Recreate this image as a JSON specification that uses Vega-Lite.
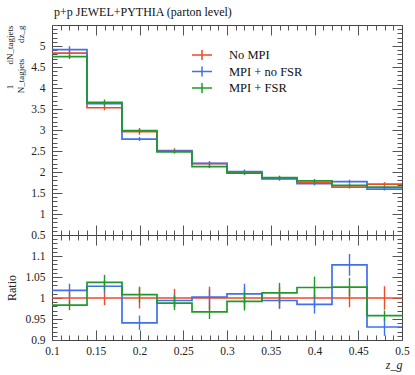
{
  "$schema": "https://vega.github.io/schema/vega-lite/v6.json",
  "background": "white",
  "padding": {"left": 5, "top": 5, "right": 8, "bottom": 5},
  "config": {
    "font": "Liberation Serif",
    "view": {"stroke": null},
    "axis": {"grid": false, "labelFlush": false, "labelOverlap": false, "labelFont": "Liberation Serif", "labelFontSize": 11, "labelColor": "#222", "titleFont": "Liberation Serif", "titleFontWeight": "normal", "titleColor": "#222", "domainColor": "#444", "tickColor": "#555", "tickWidth": 1, "domainWidth": 1}
  },
  "datasets": {
    "d": [
      {"s": "No MPI", "lo": 0.1, "hi": 0.14, "mid": 0.12, "v": 4.83, "e": 0.097, "r": 1, "re": 0.02},
      {"s": "No MPI", "lo": 0.14, "hi": 0.18, "mid": 0.16, "v": 3.53, "e": 0.06, "r": 1, "re": 0.017},
      {"s": "No MPI", "lo": 0.18, "hi": 0.22, "mid": 0.2, "v": 2.96, "e": 0.074, "r": 1, "re": 0.025},
      {"s": "No MPI", "lo": 0.22, "hi": 0.26, "mid": 0.24, "v": 2.51, "e": 0.055, "r": 1, "re": 0.022},
      {"s": "No MPI", "lo": 0.26, "hi": 0.3, "mid": 0.28, "v": 2.2, "e": 0.059, "r": 1, "re": 0.027},
      {"s": "No MPI", "lo": 0.3, "hi": 0.34, "mid": 0.32, "v": 1.99, "e": 0.05, "r": 1, "re": 0.025},
      {"s": "No MPI", "lo": 0.34, "hi": 0.38, "mid": 0.36, "v": 1.845, "e": 0.046, "r": 1, "re": 0.025},
      {"s": "No MPI", "lo": 0.38, "hi": 0.42, "mid": 0.4, "v": 1.746, "e": 0.042, "r": 1, "re": 0.024},
      {"s": "No MPI", "lo": 0.42, "hi": 0.46, "mid": 0.44, "v": 1.64, "e": 0.036, "r": 1, "re": 0.022},
      {"s": "No MPI", "lo": 0.46, "hi": 0.5, "mid": 0.48, "v": 1.71, "e": 0.048, "r": 1, "re": 0.028},
      {"s": "MPI + no FSR", "lo": 0.1, "hi": 0.14, "mid": 0.12, "v": 4.915, "e": 0.079, "r": 1.018, "re": 0.016},
      {"s": "MPI + no FSR", "lo": 0.14, "hi": 0.18, "mid": 0.16, "v": 3.63, "e": 0.054, "r": 1.028, "re": 0.015},
      {"s": "MPI + no FSR", "lo": 0.18, "hi": 0.22, "mid": 0.2, "v": 2.785, "e": 0.047, "r": 0.941, "re": 0.017},
      {"s": "MPI + no FSR", "lo": 0.22, "hi": 0.26, "mid": 0.24, "v": 2.495, "e": 0.037, "r": 0.994, "re": 0.015},
      {"s": "MPI + no FSR", "lo": 0.26, "hi": 0.3, "mid": 0.28, "v": 2.205, "e": 0.04, "r": 1.002, "re": 0.018},
      {"s": "MPI + no FSR", "lo": 0.3, "hi": 0.34, "mid": 0.32, "v": 2.01, "e": 0.048, "r": 1.01, "re": 0.024},
      {"s": "MPI + no FSR", "lo": 0.34, "hi": 0.38, "mid": 0.36, "v": 1.834, "e": 0.037, "r": 0.994, "re": 0.02},
      {"s": "MPI + no FSR", "lo": 0.38, "hi": 0.42, "mid": 0.4, "v": 1.72, "e": 0.038, "r": 0.985, "re": 0.022},
      {"s": "MPI + no FSR", "lo": 0.42, "hi": 0.46, "mid": 0.44, "v": 1.77, "e": 0.046, "r": 1.079, "re": 0.026},
      {"s": "MPI + no FSR", "lo": 0.46, "hi": 0.5, "mid": 0.48, "v": 1.592, "e": 0.033, "r": 0.931, "re": 0.021},
      {"s": "MPI + FSR", "lo": 0.1, "hi": 0.14, "mid": 0.12, "v": 4.748, "e": 0.057, "r": 0.983, "re": 0.012},
      {"s": "MPI + FSR", "lo": 0.14, "hi": 0.18, "mid": 0.16, "v": 3.66, "e": 0.066, "r": 1.037, "re": 0.018},
      {"s": "MPI + FSR", "lo": 0.18, "hi": 0.22, "mid": 0.2, "v": 2.984, "e": 0.057, "r": 1.008, "re": 0.019},
      {"s": "MPI + FSR", "lo": 0.22, "hi": 0.26, "mid": 0.24, "v": 2.48, "e": 0.042, "r": 0.988, "re": 0.017},
      {"s": "MPI + FSR", "lo": 0.26, "hi": 0.3, "mid": 0.28, "v": 2.127, "e": 0.036, "r": 0.967, "re": 0.017},
      {"s": "MPI + FSR", "lo": 0.3, "hi": 0.34, "mid": 0.32, "v": 1.974, "e": 0.043, "r": 0.992, "re": 0.022},
      {"s": "MPI + FSR", "lo": 0.34, "hi": 0.38, "mid": 0.36, "v": 1.867, "e": 0.045, "r": 1.012, "re": 0.024},
      {"s": "MPI + FSR", "lo": 0.38, "hi": 0.42, "mid": 0.4, "v": 1.79, "e": 0.047, "r": 1.025, "re": 0.026},
      {"s": "MPI + FSR", "lo": 0.42, "hi": 0.46, "mid": 0.44, "v": 1.683, "e": 0.037, "r": 1.026, "re": 0.022},
      {"s": "MPI + FSR", "lo": 0.46, "hi": 0.5, "mid": 0.48, "v": 1.638, "e": 0.02, "r": 0.958, "re": 0.012}
    ]
  },
  "data": {"name": "d"},
  "bounds": "flush",
  "spacing": 0,
  "resolve": {"scale": {"color": "independent"}, "legend": {"color": "independent"}},
  "vconcat": [
    {
      "width": 350,
      "height": 210,
      "title": {"text": "p+p JEWEL+PYTHIA (parton level)", "anchor": "start", "frame": "group", "font": "Liberation Serif", "fontSize": 12, "fontWeight": "normal", "color": "#111", "offset": 6, "dx": 2},
      "resolve": {"axis": {"x": "independent", "y": "independent"}},
      "layer": [
        {
          "transform": [{"fold": ["lo", "hi"], "as": ["k", "xx"]}],
          "mark": {"type": "line", "strokeWidth": 1.7, "clip": true},
          "encoding": {
            "x": {"field": "xx", "type": "quantitative", "scale": {"domain": [0.1, 0.5], "nice": false, "zero": false},
              "axis": {"orient": "bottom", "values": [0.1, 0.15, 0.2, 0.25, 0.3, 0.35, 0.4, 0.45, 0.5], "tickSize": -10, "labels": false, "title": null, "domain": true}},
            "y": {"field": "v", "type": "quantitative", "scale": {"domain": [0.5, 5.5], "nice": false, "zero": false},
              "axis": {"orient": "left", "values": [0.5, 1, 1.5, 2, 2.5, 3, 3.5, 4, 4.5, 5], "tickSize": -10, "labelPadding": 17, "format": "~g", "labelFont": "Liberation Serif", "labelFontSize": 11.5,
                "title": ["1\u00a0\u00a0\u00a0\u00a0\u00a0\u00a0\u00a0\u00a0\u00a0dN_tagjets", "N_tagjets\u00a0\u00a0\u00a0\u00a0\u00a0\u00a0\u00a0dz_g\u00a0\u00a0\u00a0\u00a0\u00a0"], "titleFont": "Liberation Serif", "titleFontSize": 9, "titleAnchor": "end", "titlePadding": 5}},
            "color": {"field": "s", "type": "nominal",
              "scale": {"domain": ["No MPI", "MPI + no FSR", "MPI + FSR"], "range": ["#ee4a2b", "#4070ee", "#1f9a2a"]},
              "legend": {"orient": "none", "legendX": 142, "legendY": 22, "title": null, "symbolType": "M-1.43,0H1.43M0,-0.7V0.7", "symbolSize": 196, "symbolStrokeWidth": 1.5, "labelFont": "Liberation Serif", "labelFontSize": 12.5, "labelColor": "#111", "labelOffset": 19, "rowPadding": 0.5, "padding": 0}},
            "order": [{"field": "xx", "type": "quantitative"}, {"field": "k", "type": "nominal"}]
          }
        },
        {
          "mark": {"type": "errorbar", "thickness": 1.4},
          "encoding": {
            "x": {"field": "mid", "type": "quantitative", "axis": null},
            "y": {"field": "v", "type": "quantitative", "axis": null},
            "yError": {"field": "e"},
            "color": {"field": "s", "type": "nominal", "legend": null}
          }
        },
        {
          "mark": {"type": "point", "opacity": 0},
          "encoding": {
            "x": {"field": "mid", "type": "quantitative", "axis": {"orient": "bottom", "values": [0.1,0.11,0.12,0.13,0.14,0.15,0.16,0.17,0.18,0.19,0.2,0.21,0.22,0.23,0.24,0.25,0.26,0.27,0.28,0.29,0.3,0.31,0.32,0.33,0.34,0.35,0.36,0.37,0.38,0.39,0.4,0.41,0.42,0.43,0.44,0.45,0.46,0.47,0.48,0.49,0.5], "tickSize": -5, "labels": false, "domain": false, "title": null}},
            "y": {"field": "v", "type": "quantitative", "axis": {"orient": "left", "values": [0.5,0.6,0.7,0.8,0.9,1,1.1,1.2,1.3,1.4,1.5,1.6,1.7,1.8,1.9,2,2.1,2.2,2.3,2.4,2.5,2.6,2.7,2.8,2.9,3,3.1,3.2,3.3,3.4,3.5,3.6,3.7,3.8,3.9,4,4.1,4.2,4.3,4.4,4.5,4.6,4.7,4.8,4.9,5,5.1,5.2,5.3,5.4,5.5], "tickSize": -5, "labels": false, "domain": false, "title": null}}
          }
        },
        {
          "mark": {"type": "point", "opacity": 0},
          "encoding": {
            "x": {"field": "mid", "type": "quantitative", "axis": {"orient": "top", "values": [0.1, 0.15, 0.2, 0.25, 0.3, 0.35, 0.4, 0.45, 0.5], "tickSize": -10, "labels": false, "domain": true, "title": null}},
            "y": {"field": "v", "type": "quantitative", "axis": {"orient": "right", "values": [0.5, 1, 1.5, 2, 2.5, 3, 3.5, 4, 4.5, 5, 5.5], "tickSize": -10, "labels": false, "domain": true, "title": null}}
          }
        },
        {
          "mark": {"type": "point", "opacity": 0},
          "encoding": {
            "x": {"field": "mid", "type": "quantitative", "axis": {"orient": "top", "values": [0.1,0.11,0.12,0.13,0.14,0.15,0.16,0.17,0.18,0.19,0.2,0.21,0.22,0.23,0.24,0.25,0.26,0.27,0.28,0.29,0.3,0.31,0.32,0.33,0.34,0.35,0.36,0.37,0.38,0.39,0.4,0.41,0.42,0.43,0.44,0.45,0.46,0.47,0.48,0.49,0.5], "tickSize": -5, "labels": false, "domain": false, "title": null}},
            "y": {"field": "v", "type": "quantitative", "axis": {"orient": "right", "values": [0.5,0.6,0.7,0.8,0.9,1,1.1,1.2,1.3,1.4,1.5,1.6,1.7,1.8,1.9,2,2.1,2.2,2.3,2.4,2.5,2.6,2.7,2.8,2.9,3,3.1,3.2,3.3,3.4,3.5,3.6,3.7,3.8,3.9,4,4.1,4.2,4.3,4.4,4.5,4.6,4.7,4.8,4.9,5,5.1,5.2,5.3,5.4,5.5], "tickSize": -5, "labels": false, "domain": false, "title": null}}
          }
        }
      ]
    },
    {
      "width": 350,
      "height": 105,
      "resolve": {"axis": {"x": "independent", "y": "independent"}},
      "layer": [
        {
          "transform": [{"fold": ["lo", "hi"], "as": ["k", "xx"]}],
          "mark": {"type": "line", "strokeWidth": 1.7, "clip": true},
          "encoding": {
            "x": {"field": "xx", "type": "quantitative", "scale": {"domain": [0.1, 0.5], "nice": false, "zero": false},
              "axis": {"orient": "bottom", "values": [0.1, 0.15, 0.2, 0.25, 0.3, 0.35, 0.4, 0.45, 0.5], "tickSize": -10, "labelPadding": 15, "format": "~g", "labelFont": "Liberation Serif", "labelFontSize": 11.5, "title": "z_g", "titleFont": "Liberation Serif", "titleFontStyle": "italic", "titleFontSize": 12, "titleAnchor": "end", "titlePadding": 3, "domain": true}},
            "y": {"field": "r", "type": "quantitative", "scale": {"domain": [0.9, 1.15], "nice": false, "zero": false},
              "axis": {"orient": "left", "values": [0.9, 0.95, 1, 1.05, 1.1], "tickSize": -10, "labelPadding": 17, "format": "~g", "labelFont": "Liberation Serif", "labelFontSize": 11.5, "title": "Ratio", "titleFont": "Liberation Serif", "titleFontSize": 12, "titlePadding": 6}},
            "color": {"field": "s", "type": "nominal",
              "scale": {"domain": ["No MPI", "MPI + no FSR", "MPI + FSR"], "range": ["#ee4a2b", "#4070ee", "#1f9a2a"]}, "legend": null},
            "order": [{"field": "xx", "type": "quantitative"}, {"field": "k", "type": "nominal"}]
          }
        },
        {
          "mark": {"type": "errorbar", "thickness": 1.4, "clip": true},
          "encoding": {
            "x": {"field": "mid", "type": "quantitative", "axis": null},
            "y": {"field": "r", "type": "quantitative", "axis": null},
            "yError": {"field": "re"},
            "color": {"field": "s", "type": "nominal", "legend": null}
          }
        },
        {
          "mark": {"type": "point", "opacity": 0},
          "encoding": {
            "x": {"field": "mid", "type": "quantitative", "axis": {"orient": "bottom", "values": [0.1,0.11,0.12,0.13,0.14,0.15,0.16,0.17,0.18,0.19,0.2,0.21,0.22,0.23,0.24,0.25,0.26,0.27,0.28,0.29,0.3,0.31,0.32,0.33,0.34,0.35,0.36,0.37,0.38,0.39,0.4,0.41,0.42,0.43,0.44,0.45,0.46,0.47,0.48,0.49,0.5], "tickSize": -5, "labels": false, "domain": false, "title": null}},
            "y": {"field": "r", "type": "quantitative", "axis": {"orient": "left", "values": [0.9,0.91,0.92,0.93,0.94,0.95,0.96,0.97,0.98,0.99,1,1.01,1.02,1.03,1.04,1.05,1.06,1.07,1.08,1.09,1.1,1.11,1.12,1.13,1.14,1.15], "tickSize": -5, "labels": false, "domain": false, "title": null}}
          }
        },
        {
          "mark": {"type": "point", "opacity": 0},
          "encoding": {
            "x": {"field": "mid", "type": "quantitative", "axis": {"orient": "top", "values": [0.1, 0.15, 0.2, 0.25, 0.3, 0.35, 0.4, 0.45, 0.5], "tickSize": -10, "labels": false, "domain": true, "title": null}},
            "y": {"field": "r", "type": "quantitative", "axis": {"orient": "right", "values": [0.9, 0.95, 1, 1.05, 1.1, 1.15], "tickSize": -10, "labels": false, "domain": true, "title": null}}
          }
        },
        {
          "mark": {"type": "point", "opacity": 0},
          "encoding": {
            "x": {"field": "mid", "type": "quantitative", "axis": {"orient": "top", "values": [0.1,0.11,0.12,0.13,0.14,0.15,0.16,0.17,0.18,0.19,0.2,0.21,0.22,0.23,0.24,0.25,0.26,0.27,0.28,0.29,0.3,0.31,0.32,0.33,0.34,0.35,0.36,0.37,0.38,0.39,0.4,0.41,0.42,0.43,0.44,0.45,0.46,0.47,0.48,0.49,0.5], "tickSize": -5, "labels": false, "domain": false, "title": null}},
            "y": {"field": "r", "type": "quantitative", "axis": {"orient": "right", "values": [0.9,0.91,0.92,0.93,0.94,0.95,0.96,0.97,0.98,0.99,1,1.01,1.02,1.03,1.04,1.05,1.06,1.07,1.08,1.09,1.1,1.11,1.12,1.13,1.14,1.15], "tickSize": -5, "labels": false, "domain": false, "title": null}}
          }
        }
      ]
    }
  ]
}
